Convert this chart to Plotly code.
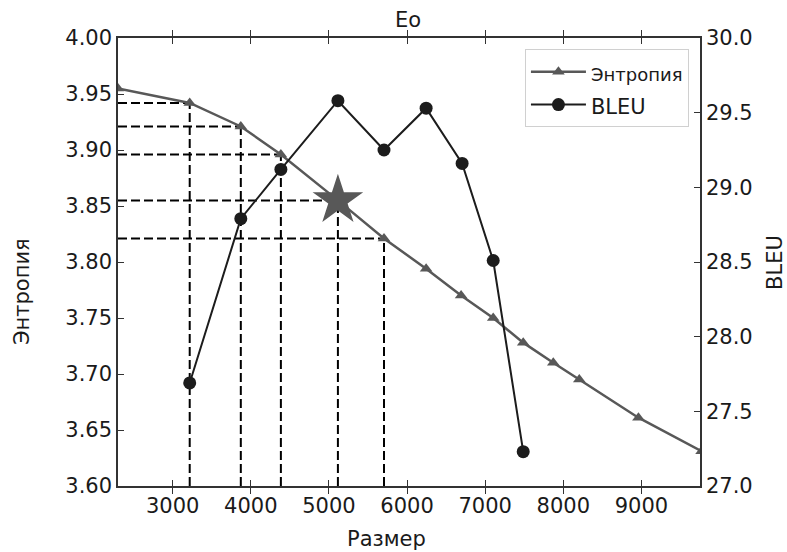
import plotly.graph_objects as go

# Data
size_entropy = [2300, 3218, 3872, 4385, 5115, 5705, 6244, 6692, 7103, 7487, 7872, 8205, 8962, 9770]
entropy = [3.955, 3.942, 3.921, 3.896, 3.855, 3.821, 3.794, 3.770, 3.750, 3.728, 3.710, 3.695, 3.661, 3.631]

size_bleu = [3218, 3872, 4385, 5115, 5705, 6244, 6705, 7103, 7487]
bleu = [27.69, 28.79, 29.12, 29.58, 29.25, 29.53, 29.16, 28.51, 27.23]

x_ticks = [3000, 4000, 5000, 6000, 7000, 8000, 9000]

# indices of entropy points marked with dashed guide lines
guide_idx = [1, 2, 3, 4, 5]
star_idx = 4

x_min, x_max = 2300, 9750
y_min, y_max = 3.60, 4.00
y2_min, y2_max = 27.0, 30.0

FONT = "DejaVu Sans"
GRAY = "#585858"
BLACK = "#1c1c1c"
TXT = "#1a1a1a"

fig = go.Figure()

fig.add_trace(go.Scatter(
    x=size_entropy, y=entropy, mode="lines+markers",
    name='<span style="font-size:18px">Энтропия</span>',
    line=dict(color=GRAY, width=2.5),
    marker=dict(symbol="triangle-up", size=11, color=GRAY),
    yaxis="y",
))
fig.add_trace(go.Scatter(
    x=size_bleu, y=bleu, mode="lines+markers",
    name='<span style="font-size:21px">BLEU</span>',
    line=dict(color=BLACK, width=2),
    marker=dict(symbol="circle", size=13, color=BLACK),
    yaxis="y2",
))
fig.add_trace(go.Scatter(
    x=[size_entropy[star_idx]], y=[entropy[star_idx]], mode="markers",
    marker=dict(symbol="star", size=38, color=GRAY, line=dict(width=0)),
    showlegend=False, yaxis="y",
))

shapes = []
for i in guide_idx:
    xv, yv = size_entropy[i], entropy[i]
    shapes.append(dict(type="line", xref="x", yref="y", x0=xv, x1=xv, y0=y_min, y1=yv,
                       line=dict(color="black", width=2, dash="9px,4px"), layer="below"))
    shapes.append(dict(type="line", xref="x", yref="y", x0=x_min, x1=xv, y0=yv, y1=yv,
                       line=dict(color="black", width=2, dash="9px,4px"), layer="below"))

axis_common = dict(
    ticks="inside", ticklen=6, tickwidth=1, tickcolor="#333",
    showline=True, linecolor="#333", linewidth=1.5,
    showgrid=False, zeroline=False,
    tickfont=dict(family=FONT, size=21, color=TXT),
)

# plot area in page pixels: x 118..700, y 38..486
annotations = [
    dict(text="Eo", xref="paper", yref="paper", x=0.498, y=1.040, showarrow=False,
         xanchor="center", yanchor="middle", font=dict(family=FONT, size=21, color=TXT)),
    dict(text="Размер", xref="paper", yref="paper", x=0.4605, y=-0.118, showarrow=False,
         xanchor="center", yanchor="middle", font=dict(family=FONT, size=21, color=TXT)),
    dict(text="Энтропия", xref="paper", yref="paper", x=-0.165, y=0.435, showarrow=False,
         textangle=-90, xanchor="center", yanchor="middle", font=dict(family=FONT, size=21, color=TXT)),
    dict(text="BLEU", xref="paper", yref="paper", x=1.129, y=0.498, showarrow=False,
         textangle=-90, xanchor="center", yanchor="middle", font=dict(family=FONT, size=21, color=TXT)),
]

fig.update_layout(
    width=787, height=552,
    margin=dict(l=118, r=87, t=38, b=66),
    paper_bgcolor="white", plot_bgcolor="white",
    font=dict(family=FONT, color=TXT),
    xaxis=dict(range=[x_min, x_max], tickvals=x_ticks, mirror="allticks", **axis_common),
    yaxis=dict(range=[y_min, y_max], dtick=0.05, tickformat=".2f", **axis_common),
    yaxis2=dict(range=[y2_min, y2_max], dtick=0.5, tickformat=".1f",
                overlaying="y", side="right", **axis_common),
    legend=dict(x=0.981, y=0.975, xanchor="right", yanchor="top",
                bgcolor="white", bordercolor="#d0d0d0", borderwidth=1,
                font=dict(family=FONT, size=23, color=TXT),
                itemwidth=55, tracegroupgap=2),
    shapes=shapes,
    annotations=annotations,
    showlegend=True,
)

fig.write_html("out.html",
               config={"displayModeBar": False},
               post_script="document.body.style.margin='0';document.body.style.overflow='hidden';")
